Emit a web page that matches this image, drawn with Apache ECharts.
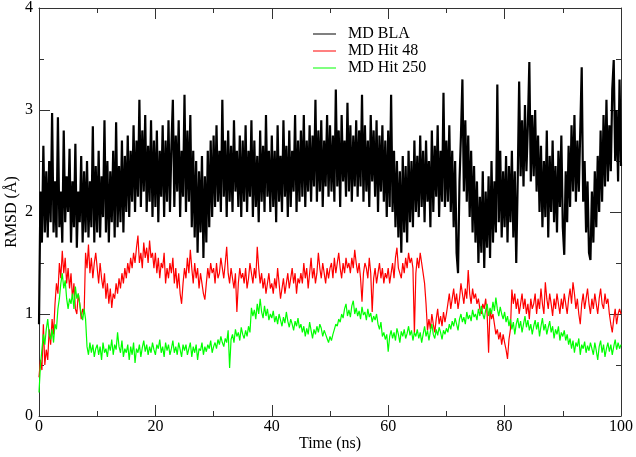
<!DOCTYPE html>
<html>
<head>
<meta charset="utf-8">
<script src="https://cdn.jsdelivr.net/npm/echarts@6/dist/echarts.min.js"></script>
<style>
html,body{margin:0;padding:0;background:#fff;}
#chart{width:636px;height:457px;}
</style>
</head>
<body>
<div id="chart"></div>
<script>
// Sampling step of all three traces (ns)
const TIME_STEP = 0.25;
const seriesNames = ['MD BLA', 'MD Hit 48', 'MD Hit 250'];
const xTickValues = [0, 20, 40, 60, 80, 100];
const yTickValues = [0, 1, 2, 3, 4];

// RMSD (Å) of MD BLA, every 0.25 ns
const rmsdBLA = [
0.9,2.2,1.7,2.65,1.8,2.4,1.75,2.5,1.9,2.97,1.8,2.3,1.75,2.93,1.85,2.2,1.7,2.8,1.9,2.35,
2.0,2.62,1.7,2.3,1.85,2.67,1.65,2.2,1.9,2.55,1.7,2.4,1.8,2.5,1.75,2.3,1.85,2.84,1.7,2.45,
1.8,2.6,1.75,2.35,1.95,2.9,1.8,2.5,1.7,2.4,1.9,2.6,1.75,2.88,1.85,2.45,1.9,2.7,1.8,2.55,
2.0,2.75,1.95,2.6,2.1,2.85,2.0,2.7,2.15,3.1,2.05,2.8,2.2,2.95,2.0,2.65,2.1,2.9,1.95,2.7,
2.05,2.8,1.9,2.6,2.15,2.85,1.95,2.7,2.1,2.9,2.0,2.65,3.1,2.05,2.75,2.2,2.9,1.95,2.6,2.15,
3.15,2.0,2.8,2.1,2.95,1.85,2.6,1.75,2.5,1.6,2.4,1.8,2.55,1.55,2.35,1.7,2.6,1.85,2.7,1.95,
2.75,2.05,2.85,2.1,2.6,2.0,3.1,2.15,2.7,1.95,2.8,2.1,2.65,2.0,2.9,2.2,2.6,2.05,2.75,1.95,
2.7,2.1,2.85,2.0,2.6,2.15,2.9,1.95,2.7,2.05,2.55,1.9,2.8,2.1,2.65,2.0,2.95,2.15,2.6,2.0,
2.75,2.05,2.6,1.9,2.85,2.1,2.55,2.0,2.9,2.15,2.65,1.95,2.8,2.05,2.6,2.2,2.95,2.0,2.7,2.1,
2.8,2.15,2.95,2.05,2.7,2.2,2.85,2.1,2.75,2.25,3.1,2.1,2.8,2.2,2.9,2.05,2.7,2.25,2.95,2.15,
2.85,2.2,2.75,2.1,3.2,2.25,2.8,2.05,2.95,2.3,2.7,2.15,3.07,2.2,2.85,2.1,2.75,2.25,2.9,2.15,
2.8,2.25,3.15,2.1,2.85,2.2,2.7,2.05,2.95,2.3,2.8,2.15,2.9,2.0,2.75,2.2,2.85,2.1,2.7,1.95,
2.8,2.05,3.15,2.0,2.6,1.85,2.5,1.75,2.4,1.6,2.55,1.8,2.45,1.7,2.6,1.9,2.5,1.85,2.7,2.0,
2.55,1.95,2.75,2.05,2.6,1.9,2.7,2.1,2.5,1.85,2.8,2.0,2.65,2.15,2.85,1.95,2.6,2.1,3.17,2.05,
2.7,2.1,2.85,2.0,2.6,1.85,2.5,1.6,1.4,2.3,2.75,3.3,2.2,2.9,2.1,2.75,1.95,2.6,1.8,2.45,
1.7,2.3,1.5,2.15,1.6,2.4,1.45,2.2,1.65,2.35,1.55,2.5,1.7,2.3,1.8,3.25,1.9,2.6,1.75,2.4,
1.85,2.55,1.7,2.45,1.9,2.6,1.75,2.4,1.5,2.3,3.28,2.35,2.9,2.25,3.05,2.4,2.85,3.47,2.3,2.95,
2.35,3.0,2.2,2.75,2.0,2.65,1.85,2.5,1.95,2.8,1.75,2.55,2.0,2.7,1.9,2.45,1.8,2.6,2.05,2.75,
1.85,1.58,2.4,1.9,2.65,2.05,2.85,2.2,2.95,2.1,2.7,2.2,2.8,3.42,2.1,2.5,1.8,2.3,1.6,1.53,
2.2,1.7,2.4,1.85,2.55,2.0,2.8,2.1,2.95,2.25,3.1,2.3,2.85,2.4,3.2,3.49,2.5,3.0,2.3,3.3,2.45
];

// RMSD (Å) of MD Hit 48, every 0.25 ns
const rmsdHit48 = [
0.38,0.55,0.45,0.9,0.5,0.65,0.55,0.85,0.7,0.95,0.8,1.1,1.3,1.2,1.5,1.35,1.62,1.4,1.55,1.3,
1.45,1.25,1.4,1.15,1.3,1.05,1.0,1.2,1.1,0.95,1.05,1.0,1.6,1.45,1.68,1.4,1.55,1.35,1.5,1.6,
1.45,1.3,1.5,1.35,1.25,1.4,1.15,1.3,1.1,1.25,1.06,1.2,1.15,1.3,1.2,1.35,1.25,1.4,1.3,1.45,
1.35,1.5,1.4,1.55,1.45,1.6,1.5,1.65,1.77,1.5,1.6,1.45,1.7,1.55,1.65,1.5,1.72,1.55,1.6,1.45,
1.6,1.4,1.55,1.35,1.5,1.45,1.6,1.3,1.45,1.35,1.5,1.4,1.55,1.3,1.45,1.25,1.4,1.2,1.1,1.3,
1.45,1.35,1.55,1.4,1.63,1.45,1.3,1.5,1.35,1.45,1.25,1.4,1.3,1.2,1.14,1.3,1.45,1.35,1.5,1.4,
1.45,1.3,1.5,1.35,1.4,1.55,1.45,1.35,1.5,1.66,1.4,1.3,1.45,1.35,1.25,1.4,1.02,1.3,1.45,1.35,
1.4,1.3,1.45,1.25,1.35,1.5,1.4,1.3,1.45,1.35,1.66,1.45,1.3,1.4,1.25,1.35,1.2,1.3,1.4,1.25,
1.3,1.2,1.35,1.25,1.45,1.3,1.15,1.25,1.35,1.2,1.3,1.4,1.25,1.35,1.45,1.3,1.4,1.2,1.35,1.3,
1.4,1.3,1.5,1.35,1.45,1.25,1.4,1.55,1.35,1.45,1.3,1.4,1.6,1.45,1.35,1.5,1.4,1.3,1.45,1.35,
1.45,1.5,1.35,1.55,1.4,1.5,1.6,1.45,1.35,1.5,1.4,1.55,1.45,1.5,1.4,1.55,1.45,1.63,1.5,1.4,
1.5,1.35,1.12,1.4,1.5,1.45,1.35,1.55,1.4,1.02,1.35,1.45,1.3,1.4,1.5,1.35,1.45,1.3,1.4,1.35,
1.45,1.3,1.4,1.5,1.35,1.55,1.65,1.45,1.4,1.35,1.5,1.4,1.55,1.45,1.6,1.5,1.55,1.45,0.81,1.4,
1.55,1.45,1.6,1.5,1.4,1.3,1.1,0.84,0.95,0.85,1.0,0.9,0.82,0.95,1.05,0.9,0.98,0.88,1.02,0.92,
1.0,1.1,1.2,1.05,1.15,1.25,1.1,1.2,1.05,1.15,1.3,1.2,1.1,1.25,1.15,1.43,1.2,1.1,1.25,1.15,
1.2,1.1,1.15,1.05,1.0,1.1,1.05,1.15,1.0,0.62,1.05,0.95,1.0,0.9,0.8,0.85,0.75,0.82,0.7,0.8,
0.72,0.65,0.56,0.75,0.85,1.24,1.1,1.2,1.05,1.15,1.0,1.1,1.2,1.05,1.15,1.0,1.1,0.95,1.15,1.05,
1.1,1.2,1.0,1.15,1.05,1.25,1.1,1.0,1.31,1.15,1.05,1.2,1.1,0.98,1.15,1.05,1.2,1.1,1.0,1.15,
1.05,1.2,1.1,1.0,1.15,1.25,1.1,1.31,1.2,1.05,1.15,1.0,0.9,1.1,1.2,1.05,1.15,1.25,1.1,1.0,
1.15,1.05,1.2,1.1,1.0,1.15,1.25,1.1,1.05,1.2,1.1,1.15,1.0,0.9,0.82,0.95,1.05,0.9,1.0,1.05,1.0
];

// RMSD (Å) of MD Hit 250, every 0.25 ns
const rmsdHit250 = [
0.23,0.5,0.65,0.8,0.7,0.85,0.95,0.8,0.75,0.85,0.72,0.9,0.85,1.05,1.15,1.3,1.4,1.25,1.33,1.15,
1.05,1.15,1.1,1.2,1.05,1.27,1.15,1.2,1.1,1.0,0.94,1.05,0.95,0.68,0.6,0.72,0.62,0.7,0.58,0.66,
0.7,0.6,0.68,0.55,0.72,0.62,0.66,0.58,0.7,0.64,0.75,0.6,0.7,0.65,0.82,0.68,0.62,0.74,0.58,0.66,
0.62,0.7,0.55,0.68,0.6,0.72,0.52,0.66,0.62,0.7,0.58,0.67,0.74,0.63,0.7,0.6,0.68,0.62,0.72,0.65,
0.6,0.7,0.66,0.75,0.62,0.68,0.58,0.72,0.64,0.7,0.6,0.66,0.74,0.62,0.68,0.6,0.72,0.65,0.58,0.7,
0.64,0.7,0.6,0.66,0.72,0.58,0.68,0.62,0.7,0.55,0.66,0.64,0.72,0.6,0.68,0.63,0.7,0.66,0.74,0.62,
0.68,0.72,0.66,0.75,0.7,0.78,0.72,0.68,0.76,0.72,0.84,0.47,0.75,0.8,0.72,0.85,0.78,0.82,0.74,0.87,
0.8,0.76,0.84,0.78,0.88,0.82,1.06,0.98,1.04,0.95,1.1,1.0,1.15,1.02,0.96,1.08,0.98,1.05,0.94,1.0,
0.96,1.03,0.92,0.98,0.9,1.0,0.94,0.88,0.97,0.91,1.02,0.93,0.87,0.95,0.9,0.84,0.93,0.88,0.96,0.86,
0.9,0.82,0.88,0.78,0.86,0.8,0.92,0.84,0.76,0.85,0.8,0.88,0.82,0.9,0.86,0.78,0.84,0.8,0.76,0.72,
0.78,0.74,0.8,0.85,0.9,0.88,0.95,0.92,1.0,0.96,1.05,1.1,0.98,1.04,0.97,1.08,1.13,1.0,1.06,0.98,
1.03,0.95,1.07,0.99,1.02,0.94,1.05,0.97,1.01,0.92,0.98,0.94,1.0,0.9,0.85,0.92,0.78,0.82,0.75,0.8,
0.63,0.78,0.84,0.76,0.82,0.74,0.86,0.8,0.72,0.83,0.78,0.85,0.76,0.81,0.88,0.79,0.84,0.74,0.82,0.78,
0.85,0.76,0.82,0.72,0.8,0.88,0.78,0.84,0.74,0.83,0.9,0.8,0.76,0.85,0.79,0.87,0.82,0.75,0.84,0.8,
0.86,0.82,0.9,0.85,0.93,0.88,0.96,0.9,0.84,0.95,1.0,0.92,0.97,0.9,1.02,0.95,0.99,0.93,1.04,0.97,
1.0,0.94,1.05,0.98,1.08,1.0,0.95,1.04,1.1,0.98,1.06,1.0,1.12,1.03,1.16,1.05,0.98,1.07,1.0,0.95,
1.02,0.92,0.98,0.88,0.95,0.85,0.92,0.8,0.9,0.96,0.86,0.93,0.82,0.9,0.98,0.87,0.94,0.84,0.9,0.8,
0.88,0.94,0.85,0.92,0.78,0.88,0.96,0.84,0.9,0.8,0.87,0.93,0.82,0.88,0.76,0.85,0.8,0.88,0.74,0.82,
0.78,0.84,0.74,0.8,0.7,0.76,0.66,0.74,0.62,0.72,0.68,0.76,0.6,0.7,0.66,0.73,0.62,0.69,0.64,0.72,
0.66,0.6,0.72,0.64,0.55,0.68,0.74,0.62,0.7,0.58,0.66,0.72,0.63,0.7,0.6,0.68,0.75,0.65,0.72,0.66,0.7
];

const seriesColors = ['#000000', '#ff0000', '#00ff00'];
const seriesWidths = [2.2, 1.2, 1.2];
const seriesData = [rmsdBLA, rmsdHit48, rmsdHit250];

function toPairs(vals) { return vals.map((v, i) => [i * TIME_STEP, v]); }

const FONT = "'Liberation Serif', 'DejaVu Serif', serif";
const frameColor = '#333';

function xAx(pos, showLabels) {
  return {
    type: 'value', position: pos, min: xTickValues[0], max: xTickValues[xTickValues.length - 1], interval: 20,
    name: showLabels ? 'Time (ns)' : '', nameLocation: 'middle', nameGap: 20, nameMoveOverlap: false,
    nameTextStyle: { fontFamily: FONT, fontSize: 16, color: '#000' },
    axisLine: { show: true, onZero: false, lineStyle: { color: frameColor, width: 1 } },
    axisTick: { show: true, inside: true, length: 11, lineStyle: { color: frameColor } },
    minorTick: { show: true, splitNumber: 2, length: 5, lineStyle: { color: frameColor } },
    axisLabel: { show: showLabels, margin: 3, fontFamily: FONT, fontSize: 16, color: '#000' },
    splitLine: { show: false }, minorSplitLine: { show: false }
  };
}
function yAx(pos, showLabels) {
  return {
    type: 'value', position: pos, min: yTickValues[0], max: yTickValues[yTickValues.length - 1], interval: 1,
    name: showLabels ? 'RMSD (Å)' : '', nameLocation: 'middle', nameGap: 19, nameMoveOverlap: false,
    nameTextStyle: { fontFamily: FONT, fontSize: 16, color: '#000' },
    axisLine: { show: true, onZero: false, lineStyle: { color: frameColor, width: 1 } },
    axisTick: { show: true, inside: true, length: 11, lineStyle: { color: frameColor } },
    minorTick: { show: true, splitNumber: 2, length: 5, lineStyle: { color: frameColor } },
    axisLabel: { show: showLabels, margin: 6, fontFamily: FONT, fontSize: 16, color: '#000' },
    splitLine: { show: false }, minorSplitLine: { show: false }
  };
}

const chart = echarts.init(document.getElementById('chart'), null, { renderer: 'canvas' });
chart.setOption({
  animation: false,
  backgroundColor: '#fff',
  grid: { left: 39, right: 15, top: 8, bottom: 41, containLabel: false, outerBoundsMode: 'none' },
  legend: {
    orient: 'vertical', left: 308, top: 21,
    icon: 'rect', itemWidth: 23, itemHeight: 1, itemGap: 1,
    textStyle: { fontFamily: FONT, fontSize: 16, color: '#000', padding: [0, 0, 0, 7], lineHeight: 16 },
    data: seriesNames
  },
  xAxis: [xAx('bottom', true), xAx('top', false)],
  yAxis: [yAx('left', true), yAx('right', false)],
  series: seriesNames.map((n, k) => ({
    name: n, type: 'line', xAxisIndex: 0, yAxisIndex: 0,
    data: toPairs(seriesData[k]),
    showSymbol: false, symbol: 'none',
    lineStyle: { color: seriesColors[k], width: seriesWidths[k] },
    itemStyle: { color: seriesColors[k] },
    emphasis: { disabled: true }
  }))
});
</script>
</body>
</html>
